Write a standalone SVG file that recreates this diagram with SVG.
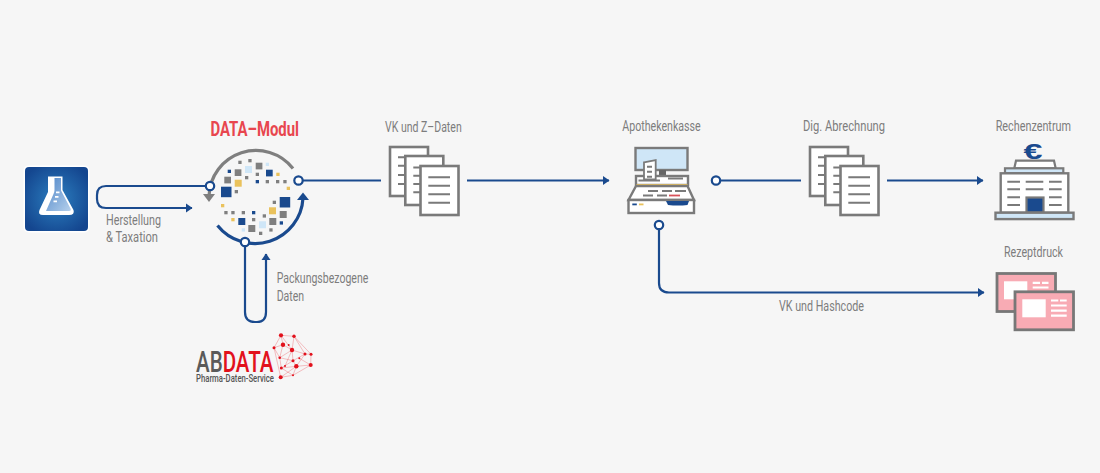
<svg xmlns="http://www.w3.org/2000/svg" width="1100" height="473" viewBox="0 0 1100 473">
<style>
text{font-family:Roboto,"Liberation Sans",sans-serif;font-size:15px;fill:#7d7d7d}
.c{fill:none;stroke:#1a4a8e;stroke-width:2.200}
.a{marker-end:url(#ah)}
.dot{fill:#fff;stroke:#1a4a8e;stroke-width:2.200}
.pg{fill:#fff;stroke:#7a7a7a;stroke-width:2.600}
.ln{stroke:#7a7a7a;stroke-width:1.900;fill:none}
.g{fill:#7f7f7f}.b{fill:#1a4a8e}.l{fill:#cfe6f7}.y{fill:#eac25c}
.w{fill:#fff}
.card{fill:#f8abb4;stroke:#777;stroke-width:2.800}
.lk{stroke:#e8343c;stroke-width:.5;opacity:.6;fill:none}
.nd{fill:#e2111c}
</style>
<defs>
<marker id="ah" markerUnits="userSpaceOnUse" markerWidth="8" markerHeight="10" refX="6" refY="5" orient="auto"><path d="M0 0.500L6.500 5L0 9.500Z" fill="#1a4a8e"/></marker>
<radialGradient id="fb" cx="50%" cy="50%" r="60%"><stop offset="0" stop-color="#2c7fc0"/><stop offset="1" stop-color="#14468f"/></radialGradient>
<linearGradient id="fl" x1="0" y1="0" x2="1" y2="1"><stop offset="0" stop-color="#4f86c8"/><stop offset="1" stop-color="#b5d0ec"/></linearGradient>
<g id="docs">
<rect class="pg" x="390" y="147" width="38" height="49"/>
<path class="ln" d="M398 157.300H420M398 165.700H420M398 175H420M398 184H420"/>
<rect class="pg" x="405.300" y="156" width="38" height="49"/>
<path class="ln" d="M413.300 167.500H435M413.300 175.700H435M413.300 184H435M413.300 192.300H435"/>
<rect class="pg" x="420.500" y="166" width="38" height="49"/>
<path class="ln" d="M428.300 177.300H450M428.300 185.700H450M428.300 194.300H450M428.300 202.700H450"/>
</g>
</defs>
<rect width="1100" height="473" fill="#f6f6f6"/>

<g id="connectors">
<path class="c a" d="M210 186H106Q97 186 97 195V199Q97 208 106 208H192"/>
<path class="c a" d="M245 242V312Q245 322 255 322H257Q266 322 266 312V254"/>
<path class="c" d="M298 180.500H381"/>
<path class="c a" d="M467 180.500H609"/>
<path class="c" d="M716 180.500H801"/>
<path class="c a" d="M887 180.500H983"/>
<path class="c a" d="M659 225V283Q659 292.500 669 292.500H984"/>
<circle class="dot" cx="716" cy="180.500" r="4.200"/>
<circle class="dot" cx="659" cy="225" r="4.200"/>
</g>

<g id="flask">
<rect x="23.500" y="165.500" width="66" height="67" rx="5" fill="#fff"/>
<rect x="25" y="167" width="63" height="64" rx="4" fill="url(#fb)"/>
<path class="w" d="M48 176.500H62.500V190L73.500 210Q75 215 69 215H43Q37.500 215 39.500 210L48 192Z"/>
<path fill="url(#fl)" d="M54.500 178H61V190.500L70.500 208.500Q71.500 211 69 211H46L53.500 194Q54.500 192 54.500 190Z"/>
<path class="w" d="M56 191.500h3.500v1.800h-3.500zM55 196h3.500v1.800h-3.500zM53.500 200.500h3.500v1.800h-3.500z"/>
</g>

<g id="data-modul">
<text x="210.500" y="135.700" textLength="88.500" lengthAdjust="spacingAndGlyphs" style="font-size:20px;font-weight:700;fill:#e8464e">DATA–Modul</text>
<path fill="none" stroke="#7f7f7f" stroke-width="3.200" d="M209 196A47 47 0 0 1 293 168.500"/>
<path fill="#7f7f7f" d="M203 194H215L209 202Z"/>
<path fill="none" stroke="#1a4a8e" stroke-width="3.200" d="M217.500 225.500A48 48 0 0 0 303 198"/>
<path fill="#1a4a8e" d="M303 192.500L309 200H297Z"/>
<g class="g">
<rect x="255.700" y="162.700" width="6.700" height="6.700"/><rect x="234.700" y="169.300" width="6.700" height="6.700"/><rect x="224.300" y="176.700" width="6.700" height="6.700"/>
<rect x="238.300" y="160.700" width="3.300" height="3.300"/><rect x="248.300" y="159" width="3.300" height="3.300"/><rect x="255.700" y="172.700" width="3.300" height="3.300"/><rect x="245" y="176" width="3.300" height="3.300"/><rect x="265.700" y="180" width="3.300" height="3.300"/><rect x="276" y="180" width="3.300" height="3.300"/><rect x="283.300" y="180" width="3.300" height="3.300"/><rect x="234.700" y="190" width="3.300" height="3.300"/>
<rect x="224.300" y="211" width="3.300" height="3.300"/><rect x="231.300" y="211" width="3.300" height="3.300"/><rect x="241.700" y="211" width="3.300" height="3.300"/><rect x="262.700" y="214.300" width="3.300" height="3.300"/><rect x="272.700" y="200.700" width="3.300" height="3.300"/>
<rect x="279.700" y="211" width="7" height="7"/><rect x="269.300" y="218" width="7" height="7"/><rect x="252" y="218" width="3.300" height="3.300"/><rect x="248.300" y="225" width="7" height="7"/><rect x="269.300" y="228.300" width="3.300" height="3.300"/><rect x="259" y="231.700" width="3.300" height="3.300"/>
</g>
<g class="b">
<rect x="227.700" y="169.700" width="3.300" height="3.300"/><rect x="266" y="169.700" width="6.700" height="6.700"/><rect x="255.700" y="180" width="3.300" height="3.300"/><rect x="221" y="186.700" width="10.500" height="10.500"/>
<rect x="252" y="211" width="3.300" height="3.300"/><rect x="279.700" y="197" width="10.500" height="10.500"/><rect x="279.700" y="221.300" width="3.300" height="3.300"/><rect x="238.300" y="218" width="7" height="7"/>
</g>
<g class="l">
<rect x="245" y="166" width="7" height="7"/><rect x="265.700" y="162.700" width="3.300" height="3.300"/><rect x="259" y="221.300" width="7" height="7"/><rect x="241.700" y="228.300" width="3.300" height="3.300"/>
</g>
<g class="y">
<rect x="234.700" y="179.700" width="7" height="7"/><rect x="276.300" y="172.700" width="3.300" height="3.300"/><rect x="286.700" y="186.700" width="3.300" height="3.300"/><rect x="221" y="204" width="3.300" height="3.300"/><rect x="269" y="207.300" width="7" height="7"/><rect x="231.300" y="218" width="3.300" height="3.300"/>
</g>
<circle class="dot" cx="210" cy="186" r="4.200"/>
<circle class="dot" cx="298.500" cy="180.500" r="4.200"/>
<circle class="dot" cx="245" cy="242" r="4.200"/>
</g>

<g id="abdata">
<g class="lk">
<path d="M281 335.300L294 336.300L305 354L311 354.300L310.700 365L296.300 366.300L280.700 377.300L274 347.700L281 335.300L283 344.700L292 350L294 336.300L311 354.300M274 347.700L283 344.700L279.700 357.700L292 350L305 354L296.300 366.300L293 360.700L279.700 357.700L281.300 368L296.300 366.300L293 375.300L310.700 365M281.300 368L293 360.700L305 354M281 335.300L292 350L293 360.700M280.700 377.300L293 375.300L281.300 368M285 366L292 350M299.300 358.300L310.700 365M274 347.700L279.700 357.700"/>
</g>
<circle class="nd" cx="281" cy="335.300" r="2.100"/><circle class="nd" cx="294" cy="336.300" r="1.700"/><circle class="nd" cx="274" cy="347.700" r="1.500"/><circle class="nd" cx="283" cy="344.700" r="2.200"/><circle class="nd" cx="292" cy="350" r="2.200"/><circle class="nd" cx="288.700" cy="345" r="1"/><circle class="nd" cx="279.700" cy="357.700" r="1.300"/><circle class="nd" cx="293" cy="360.700" r="1.500"/><circle class="nd" cx="305" cy="354" r="1.500"/><circle class="nd" cx="311" cy="354.300" r="1.500"/><circle class="nd" cx="296.300" cy="366.300" r="2.200"/><circle class="nd" cx="310.700" cy="365" r="2"/><circle class="nd" cx="281.300" cy="368" r="1.500"/><circle class="nd" cx="280.700" cy="377.300" r="2"/><circle class="nd" cx="299.300" cy="358.300" r="1"/><circle class="nd" cx="285" cy="366" r="1"/><circle class="nd" cx="293" cy="375.300" r="1"/>
<text x="196" y="371.700" textLength="77.500" lengthAdjust="spacingAndGlyphs" style="font-size:30px;font-weight:500;fill:#5a5a5a">AB<tspan style="fill:#e2111c">DATA</tspan></text>
<text x="196" y="381.500" textLength="78" lengthAdjust="spacingAndGlyphs" style="font-size:10.500px;font-weight:500;fill:#555">Pharma-Daten-Service</text>
</g>

<g id="labels">
<text x="106" y="225" textLength="55" lengthAdjust="spacingAndGlyphs">Herstellung</text>
<text x="106" y="242.300" textLength="52" lengthAdjust="spacingAndGlyphs">&amp; Taxation</text>
<text x="276.700" y="282.700" textLength="91.600" lengthAdjust="spacingAndGlyphs">Packungsbezogene</text>
<text x="276.700" y="300.700" textLength="27.500" lengthAdjust="spacingAndGlyphs">Daten</text>
<text x="779" y="311" textLength="85" lengthAdjust="spacingAndGlyphs">VK und Hashcode</text>
</g>

<g id="vk-z-daten">
<text x="385" y="131.700" textLength="76.700" lengthAdjust="spacingAndGlyphs">VK und Z–Daten</text>
<use href="#docs"/>
</g>

<g id="apothekenkasse">
<text x="622.300" y="130.700" textLength="78.400" lengthAdjust="spacingAndGlyphs">Apothekenkasse</text>
<rect x="635.500" y="148" width="52" height="22" fill="#cfe6f7" stroke="#7a7a7a" stroke-width="2.400"/>
<rect x="659" y="170" width="7" height="6" fill="#666"/>
<rect x="636" y="176" width="52" height="9" fill="#fff" stroke="#7a7a7a" stroke-width="2.400"/>
<path class="ln" d="M638.500 180.500H660M668 178.500H683"/>
<path d="M644 162.300L655.700 160V179.500H644Z" fill="#fff" stroke="#7a7a7a" stroke-width="1.800"/>
<path class="ln" d="M647 166.700H652M647 171.700H652M647 176.700H652"/>
<rect x="636.500" y="184" width="51" height="2.200" fill="#eac25c"/>
<path d="M636 186L628.500 200H694L687.500 186Z" fill="#fff" stroke="#7a7a7a" stroke-width="2.400"/>
<rect x="628.500" y="200" width="65.500" height="13" fill="#fff" stroke="#7a7a7a" stroke-width="2.400"/>
<path class="ln" d="M648 191H658M662 191H672M675 191H686M643 195.500H653M657 195.500H667"/>
<path d="M669 195.500H680" stroke="#d8525a" stroke-width="1.800" fill="none"/>
<path d="M666 201H689L687.500 205Q678 206 668 205Z" fill="#1a4a8e"/>
<rect x="632.300" y="203.500" width="4.500" height="1.800" fill="#1a4a8e"/>
<rect x="639" y="203.500" width="4.500" height="1.800" fill="#eac25c"/>
</g>

<g id="dig-abrechnung">
<text x="803" y="131" textLength="82" lengthAdjust="spacingAndGlyphs">Dig. Abrechnung</text>
<use href="#docs" x="420"/>
</g>

<g id="rechenzentrum">
<text x="995.700" y="130.700" textLength="75.300" lengthAdjust="spacingAndGlyphs">Rechenzentrum</text>
<text x="1023.500" y="159" textLength="19" lengthAdjust="spacingAndGlyphs" style="font-size:22px;font-weight:700;fill:#1a4a8e;font-family:'Liberation Sans',sans-serif">€</text>
<path d="M1014.300 168.300L1016 160.700H1054L1055.700 168.300Z" fill="#fff" stroke="#7a7a7a" stroke-width="2.200"/>
<rect x="1005" y="168.300" width="58.300" height="5" fill="#cfe6f7" stroke="#7a7a7a" stroke-width="2.200"/>
<rect x="1000.700" y="173.300" width="67.600" height="39.400" fill="#fff" stroke="#7a7a7a" stroke-width="2.400"/>
<path class="ln" d="M1007.300 181.700H1020M1025.700 181.700H1043.300M1049 181.700H1061.700M1007.300 189.300H1020M1025.700 189.300H1043.300M1049 189.300H1061.700M1007.300 197.300H1020M1049 197.300H1061.700M1007.300 205H1020M1049 205H1061.700"/>
<rect x="1026.500" y="197.500" width="17" height="15" fill="#1a4a8e" stroke="#7a7a7a" stroke-width="2.200"/>
<rect x="995.500" y="212.700" width="78" height="6.400" fill="#cfe6f7" stroke="#7a7a7a" stroke-width="2.400"/>
</g>

<g id="rezeptdruck">
<text x="1004" y="257.300" textLength="59" lengthAdjust="spacingAndGlyphs">Rezeptdruck</text>
<rect class="card" x="997" y="273.500" width="58.500" height="38"/>
<rect class="w" x="1004" y="281.300" width="23.300" height="18"/>
<path d="M1032.700 282.800H1040M1042 282.800H1048.500M1032.700 287.500H1048.500" stroke="#fff" stroke-width="2.200" fill="none"/>
<rect class="card" x="1015" y="291.800" width="58.500" height="38"/>
<rect class="w" x="1022.300" y="299.300" width="23.400" height="18"/>
<path d="M1051 300.500H1058.300M1060 300.500H1066.700M1051 305.500H1066.700M1051 310.700H1066.700M1051 315.700H1066.700" stroke="#fff" stroke-width="2.200" fill="none"/>
</g>
</svg>
